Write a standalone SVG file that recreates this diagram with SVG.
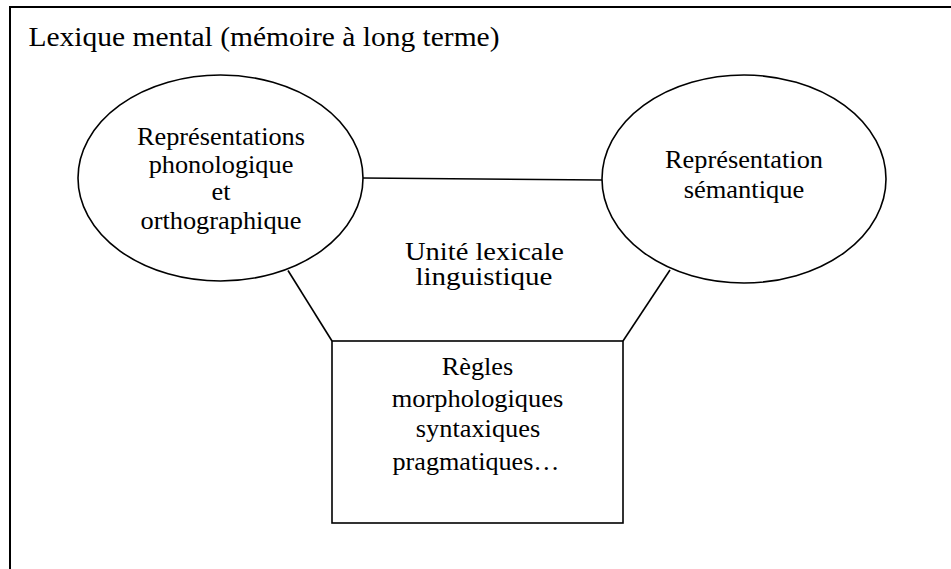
<svg xmlns="http://www.w3.org/2000/svg" width="951" height="569" viewBox="0 0 951 569" font-family="'Liberation Serif', 'DejaVu Serif', serif">
<style>
.ln{fill:none;stroke:#000;stroke-width:1.6}
.fr{fill:none;stroke:#000;stroke-width:2}
.nd{fill:#fff;stroke:#000;stroke-width:1.6}
.t{font-size:27.5px;fill:#000}
.n{font-size:24.5px;text-anchor:middle;fill:#000}
.u{font-size:25px;text-anchor:middle;fill:#000}
</style>
<rect width="951" height="569" fill="#fff"/>
<g id="frame">
<path class="fr" d="M10,569 V7 H951"/>
<text class="t" x="28.5" y="46" textLength="471" lengthAdjust="spacingAndGlyphs">Lexique mental (mémoire à long terme)</text>
</g>
<g id="connectors">
<line class="ln" x1="363" y1="178" x2="602" y2="180"/>
<line class="ln" x1="288" y1="270.5" x2="332" y2="341"/>
<line class="ln" x1="670" y1="270" x2="623" y2="341"/>
</g>
<g id="node-phono">
<ellipse class="nd" cx="220.5" cy="178" rx="142.5" ry="103"/>
<text class="n" x="221" y="145" textLength="168" lengthAdjust="spacingAndGlyphs">Représentations</text>
<text class="n" x="221" y="172.5" textLength="144.7" lengthAdjust="spacingAndGlyphs">phonologique</text>
<text class="n" x="221" y="200" textLength="19" lengthAdjust="spacingAndGlyphs">et</text>
<text class="n" x="221" y="228.5" textLength="161" lengthAdjust="spacingAndGlyphs">orthographique</text>
</g>
<g id="node-semantique">
<ellipse class="nd" cx="744" cy="179" rx="142" ry="104"/>
<text class="n" x="744" y="167.5" textLength="158" lengthAdjust="spacingAndGlyphs">Représentation</text>
<text class="n" x="744" y="197.5" textLength="120.5" lengthAdjust="spacingAndGlyphs">sémantique</text>
</g>
<g id="node-unite">
<text class="u" x="484.5" y="260" textLength="159" lengthAdjust="spacingAndGlyphs">Unité lexicale</text>
<text class="u" x="484" y="285" textLength="137" lengthAdjust="spacingAndGlyphs">linguistique</text>
</g>
<g id="node-regles">
<rect class="nd" x="332" y="341" width="291" height="182"/>
<text class="n" x="477.5" y="375" textLength="71.5" lengthAdjust="spacingAndGlyphs">Règles</text>
<text class="n" x="477.5" y="407" textLength="171.5" lengthAdjust="spacingAndGlyphs">morphologiques</text>
<text class="n" x="478" y="437" textLength="124.5" lengthAdjust="spacingAndGlyphs">syntaxiques</text>
<text class="n" x="476" y="469.5" textLength="167" lengthAdjust="spacingAndGlyphs">pragmatiques…</text>
</g>
</svg>
